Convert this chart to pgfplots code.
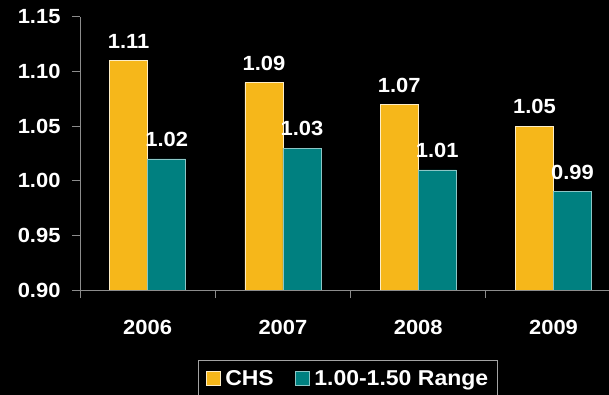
\documentclass[border=0pt]{standalone}
\usepackage{pgfplots}
\pgfplotsset{compat=1.18}
\usepackage{fontspec}
\setmainfont{Liberation Sans}[FakeStretch=1.07]
\definecolor{chsyellow}{RGB}{246,183,26}
\definecolor{rangeteal}{RGB}{0,128,128}
\definecolor{axisgray}{RGB}{140,140,140}
\begin{document}
\begin{tikzpicture}
\fill[black] (0,0) rectangle (609bp,395bp);
\begin{axis}[
  at={(80bp,105bp)}, anchor=south west,
  scale only axis, width=529bp, height=273bp,
  xmin=-0.5, xmax=3.41, ymin=0.9, ymax=1.15,
  axis x line*=bottom, axis y line*=left,
  axis line style={-, axisgray, line width=1bp},
  every outer x axis line/.append style={-},
  every outer y axis line/.append style={-},
  font=\fontsize{20.5bp}{24bp}\selectfont\bfseries,
  /pgf/number format/assume math mode=true,
  xtick={0,1,2,3},
  xticklabels={2006,2007,2008,2009},
  minor xtick={-0.5,0.5,1.5,2.5},
  major x tick style={draw=none},
  minor x tick style={axisgray, line width=1bp},
  ytick={0.90,0.95,1.00,1.05,1.10,1.15},
  y tick style={axisgray, line width=1bp},
  yticklabel style={/tikz/xshift=-8bp, /pgf/number format/.cd, fixed, fixed zerofill, precision=2},
  tick align=outside,
  major tick length=8bp, minor tick length=8bp,
  tick label style={text=white},
  xticklabel style={yshift=-19bp},
  ybar=0pt, bar width=0.281,
  nodes near coords={\pgfmathprintnumber[fixed,fixed zerofill,precision=2]{\pgfplotspointmeta}},
  every node near coord/.append style={text=white, yshift=8.5bp},
  legend columns=2,
  legend image code/.code={\fill[#1] (0bp,-7bp) rectangle (14bp,7bp); \path (17bp,0bp);},
  legend style={at={(0.5066,-0.2564)}, anchor=north, fill=black,
    font=\fontsize{21.5bp}{25bp}\selectfont\bfseries,
    draw=axisgray!80, line width=1bp, text=white, inner xsep=7bp, inner ysep=8bp,
    /tikz/every even column/.append style={column sep=19bp}},
]
\addplot[fill=chsyellow, draw=white!75!chsyellow, line width=0.5bp, bar shift=-0.1405]
  coordinates {(0,1.11) (1,1.09) (2,1.07) (3,1.05)};
\addplot[fill=rangeteal, draw=white!55!rangeteal, line width=0.5bp, bar shift=0.1405]
  coordinates {(0,1.02) (1,1.03) (2,1.01) (3,0.99)};
\legend{CHS, 1.00-1.50 Range}
\end{axis}
\pgfresetboundingbox
\path (0,0) rectangle (609bp,395bp);
\end{tikzpicture}
\end{document}
